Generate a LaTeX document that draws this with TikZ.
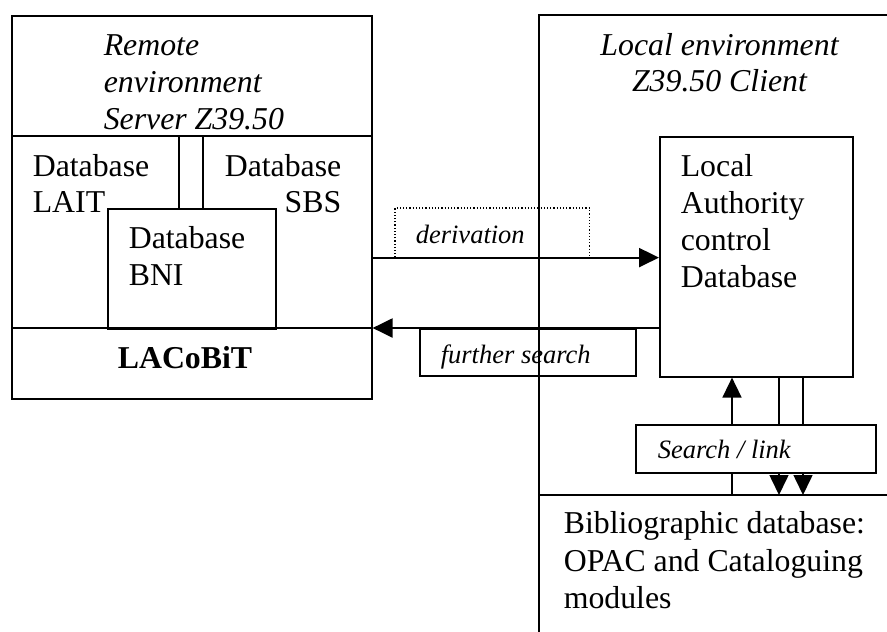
\documentclass[tikz,border=0pt]{standalone}
\usepackage{fontspec}
\setmainfont{Liberation Serif}
\usetikzlibrary{positioning, arrows.meta}

\tikzset{
  box/.style={draw, inner sep=0pt, anchor=north west},
  txt/.style={anchor=base west, inner sep=0pt, font=\fontsize{31.8pt}{37pt}\selectfont},
  ttl/.style={txt, font=\fontsize{31.8pt}{37pt}\selectfont\itshape},
  lbl/.style={txt, font=\fontsize{26.5pt}{31pt}\selectfont\itshape},
  flow/.style={-{Triangle[length=20pt,width=19pt]}, line width=2.2pt},
}

\begin{document}
\begin{tikzpicture}[x=1pt, y=-1pt, line width=1.6pt]
\useasboundingbox (0,0) rectangle (887,632);

% remote side: server with its three databases
\node[box, minimum width=360pt, minimum height=383pt] (remote) at (11,15) {};
\draw (11,136) -- (371,136);
\draw (11,328) -- (371,328);
\node[box, minimum width=168pt, minimum height=120pt] (bni) at (107,208) {};
\draw (179,136) -- (179,208);
\draw (203,136) -- (203,208);

\node[ttl] (rem1) at (103,55) {Remote};
\node[ttl] (rem2) at (103,92) {environment};
\node[ttl] (rem3) at (103,129) {Server Z39.50};
\node[txt] (lait1) at (32,176) {Database};
\node[txt] (lait2) at (32,212) {LAIT};
\node[txt] (sbs1) at (224,176) {Database};
\node[txt, anchor=base east] (sbs2) at (342,212) {SBS};
\node[txt] (bni1) at (128,248) {Database};
\node[txt] (bni2) at (128,285) {BNI};
\node[txt, anchor=base, font=\fontsize{31.8pt}{37pt}\selectfont\bfseries] (lacobit) at (185,368) {LACoBiT};

% local side: client
\draw (887,15) -| (539,632);
\node[ttl, anchor=base] (loc1) at (719.5,55) {Local environment};
\node[ttl, anchor=base] (loc2) at (719.5,91) {Z39.50 Client};

\node[box, minimum width=193pt, minimum height=240pt] (lacdb) at (659,136) {};
\node[txt] (lac1) at (680,176) {Local};
\node[txt] (lac2) at (680,213) {Authority};
\node[txt] (lac3) at (680,250) {control};
\node[txt] (lac4) at (680,287) {Database};

\node[box, minimum width=240pt, minimum height=48pt] (slink) at (635,424) {};
\node[lbl] (slinktxt) at (657,458) {Search / link};

\node[anchor=north west, inner sep=0pt, minimum width=348pt] (biblio) at (539,495) {};
\draw (biblio.north west) -- (biblio.north east);
\node[txt] (bib1) at (563,533) {Bibliographic database:};
\node[txt] (bib2) at (563,571) {OPAC and Cataloguing};
\node[txt] (bib3) at (563,608) {modules};

% exchanges between the two sides
\node[anchor=north west, inner sep=0pt, minimum width=193pt, minimum height=48pt] (deriv) at (395,208) {};
\draw[dotted, line width=1.2pt] (deriv.south west) |- (deriv.north east) -- (deriv.south east);
\node[lbl] (derivtxt) at (415,243) {derivation};
\draw[flow] (remote.east |- deriv.south) -- (lacdb.west |- deriv.south);

\node[box, minimum width=216pt, minimum height=47pt] (further) at (419,328) {};
\node[lbl] (furthertxt) at (440,363) {further search};
\draw[flow] (lacdb.west |- further.north) -- (remote.east |- further.north);

% links to the bibliographic database
\coordinate (up) at (732,0);
\coordinate (dnA) at (779,0);
\coordinate (dnB) at (803,0);
\draw[flow, line width=1.6pt] (up |- slink.north) -- (up |- lacdb.south);
\draw (up |- biblio.north) -- (up |- slink.south);
\draw (dnA |- lacdb.south) -- (dnA |- slink.north);
\draw (dnB |- lacdb.south) -- (dnB |- slink.north);
\draw[flow, line width=1.6pt] (dnA |- slink.south) -- (dnA |- biblio.north);
\draw[flow, line width=1.6pt] (dnB |- slink.south) -- (dnB |- biblio.north);
\end{tikzpicture}
\end{document}
